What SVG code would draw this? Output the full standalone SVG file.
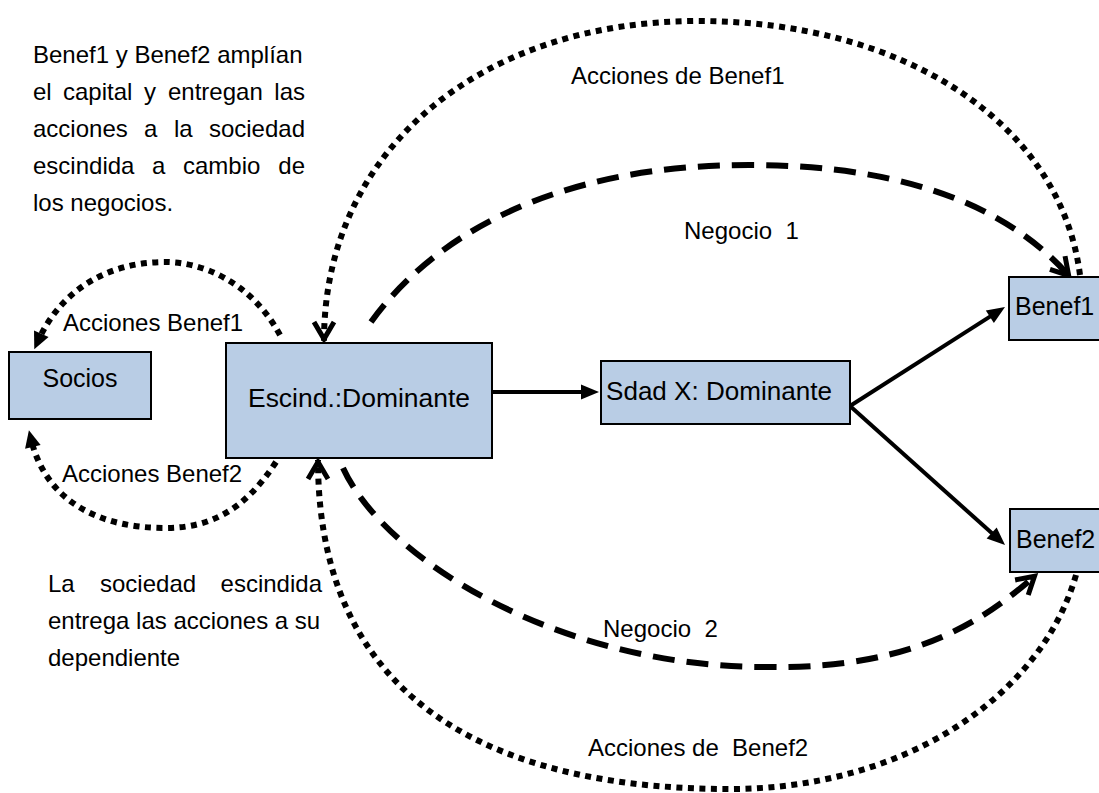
<svg xmlns="http://www.w3.org/2000/svg" width="1099" height="793" viewBox="0 0 1099 793">
  <style>
    text { font-family: "Liberation Sans", Arial, sans-serif; fill: #000; }
    .t { font-size: 24px; }
    .lbl { font-size: 25px; }
    .box { fill: #B9CDE5; stroke: #000; stroke-width: 2; }
    .solid { fill: none; stroke: #000; stroke-width: 4; }
    .dash { fill: none; stroke: #000; stroke-width: 6; stroke-dasharray: 22 12; stroke-linecap: butt; }
    .dot { fill: none; stroke: #000; stroke-width: 6; stroke-dasharray: 6 5.5; stroke-linecap: butt; }
  </style>
  <defs>
    <!-- filled head for solid links -->
    <marker id="tri" markerUnits="userSpaceOnUse" markerWidth="20" markerHeight="16" refX="8" refY="7.5" orient="auto" overflow="visible">
      <path d="M0,0 L18,7.5 L0,15 Z" fill="#000"/>
    </marker>
    <!-- filled head for the share transfers to the partners -->
    <marker id="tri2" markerUnits="userSpaceOnUse" markerWidth="20" markerHeight="18" refX="8" refY="8" orient="auto" overflow="visible">
      <path d="M0,0 L17,8 L0,16 Z" fill="#000"/>
    </marker>
    <!-- open chevron head -->
    <marker id="vee" markerUnits="userSpaceOnUse" markerWidth="26" markerHeight="26" refX="19" refY="10" orient="auto" overflow="visible">
      <path d="M0,0 L17,10 L0,20" fill="none" stroke="#000" stroke-width="5" stroke-linejoin="miter"/>
    </marker>
  </defs>

  <!-- explanatory notes -->
  <g id="note-top" class="t">
    <text x="33" y="63">Benef1 y Benef2 amplían</text>
    <text y="100"><tspan x="33">el</tspan><tspan x="63">capital</tspan><tspan x="144">y</tspan><tspan x="168">entregan</tspan></text>
    <text x="305" y="100" text-anchor="end">las</text>
    <text y="137"><tspan x="33">acciones</tspan><tspan x="144">a</tspan><tspan x="174">la</tspan></text>
    <text x="305" y="137" text-anchor="end">sociedad</text>
    <text y="174"><tspan x="33">escindida</tspan><tspan x="152">a</tspan><tspan x="183">cambio</tspan></text>
    <text x="305" y="174" text-anchor="end">de</text>
    <text x="33" y="211">los negocios.</text>
  </g>
  <g id="note-bottom" class="t">
    <text y="592"><tspan x="48">La</tspan><tspan x="100">sociedad</tspan></text>
    <text x="322" y="592" text-anchor="end">escindida</text>
    <text x="48" y="629">entrega las acciones a su</text>
    <text x="48" y="666">dependiente</text>
  </g>

  <!-- connectors -->
  <g id="connectors">
    <path class="solid" d="M492,392 L589,392" marker-end="url(#tri)"/>
    <path class="solid" d="M850,406 L996.6,312.4" marker-end="url(#tri)"/>
    <path class="solid" d="M850,406 L997.6,538.3" marker-end="url(#tri)"/>

    <path class="dot" d="M1080,275 C1060,120 900,21 698,21 C480,21 324,150 324,341" marker-end="url(#vee)"/>
    <path class="dash" d="M371,322 C431,239 549,165 749,165 C919,165 1015,214 1070,277" marker-end="url(#vee)"/>
    <path class="dash" d="M343,468 C385,560 560,667 765,667 C920,670 990,615 1036,575" marker-end="url(#vee)"/>
    <path class="dot" d="M1076,575 C1040,700 900,789 730,789 C520,789 318,720 318,460" marker-end="url(#vee)"/>

    <path class="dot" d="M280,335 C250,280 200,262 165,262 C110,262 62,288 38,341" marker-end="url(#tri2)"/>
    <path class="dot" d="M276,462 C245,510 210,528 165,528 C100,528 46,502 31,439" marker-end="url(#tri2)"/>

    <g class="t">
      <text x="571" y="84">Acciones de Benef1</text>
      <text x="684" y="239" xml:space="preserve">Negocio  1</text>
      <text x="603" y="637" xml:space="preserve">Negocio  2</text>
      <text x="588" y="756" xml:space="preserve">Acciones de  Benef2</text>
      <text x="63" y="331">Acciones Benef1</text>
      <text x="62" y="482">Acciones Benef2</text>
    </g>
  </g>

  <!-- nodes -->
  <g id="socios">
    <rect class="box" x="9" y="352" width="142" height="67"/>
    <text class="lbl" x="80" y="387" text-anchor="middle">Socios</text>
  </g>
  <g id="escindida">
    <rect class="box" x="226" y="343" width="266" height="115"/>
    <text class="lbl" x="248" y="407" textLength="222" lengthAdjust="spacingAndGlyphs">Escind.:Dominante</text>
  </g>
  <g id="sdad-x">
    <rect class="box" x="601" y="361" width="249" height="63"/>
    <text class="lbl" x="606" y="400" textLength="226" lengthAdjust="spacingAndGlyphs">Sdad X: Dominante</text>
  </g>
  <g id="benef1">
    <rect class="box" x="1009" y="277" width="100" height="63"/>
    <text class="lbl" x="1015" y="315">Benef1</text>
  </g>
  <g id="benef2">
    <rect class="box" x="1010" y="509" width="100" height="63"/>
    <text class="lbl" x="1016" y="548">Benef2</text>
  </g>
</svg>
